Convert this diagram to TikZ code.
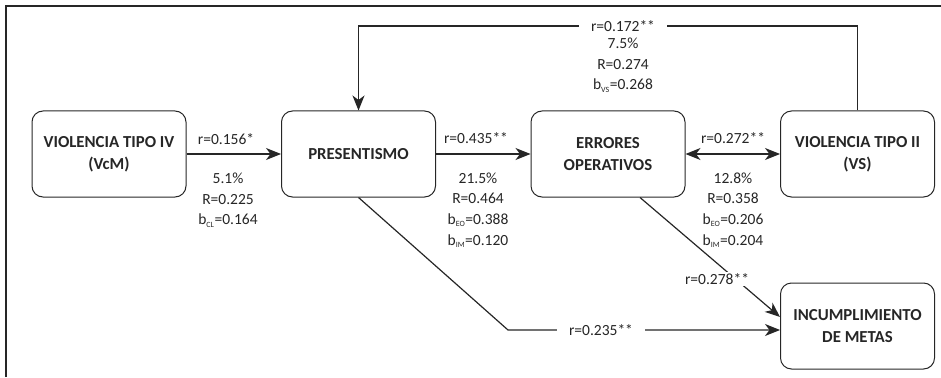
\documentclass[tikz,border=0pt]{standalone}
\usepackage{fontspec}
\setmainfont{Carlito}
\usetikzlibrary{positioning,arrows.meta}
\definecolor{ink}{gray}{0.15}
\newcommand{\sbs}[1]{\textsubscript{\fontsize{8}{8}\selectfont #1}}

\begin{document}
\begin{tikzpicture}[x=1pt,y=-1pt,node distance=249.5pt,on grid,
    >={Stealth[length=15pt,width=12pt,inset=4.5pt]},
    var/.style={draw=ink,line width=1pt,rounded corners=11pt,minimum width=154pt,minimum height=86pt,
      align=center,text=ink,font=\fontsize{16.8}{22}\selectfont\bfseries},
    stat/.style={align=center,text=ink,font=\fontsize{15.5}{20.7}\selectfont},
    gap/.style={stat,fill=white,inner xsep=12pt,inner ysep=1pt},
    link/.style={draw=ink,line width=1.2pt,->}]
  \useasboundingbox (0,0) rectangle (941,377);
  \draw[ink,line width=1.4pt] (6,377) -- (6,6) -- (941,6);

  % variables
  \node[var] (vcm) at (109,154) {VIOLENCIA TIPO IV\\(VcM)};
  \node[var] (pres) [right=of vcm]  {PRESENTISMO};
  \node[var] (err)  [right=of pres] {ERRORES\\OPERATIVOS};
  \node[var] (vs)   [right=of err]  {VIOLENCIA TIPO II\\(VS)};
  \node[var] (inc)  [below=172pt of vs] {INCUMPLIMIENTO\\DE METAS};

  % paths
  \coordinate (top)  at (623,26);
  \coordinate (knee) at (508,330);
  \draw[link] (vcm) -- (pres);
  \draw[link] (pres) -- (err);
  \draw[link,<->] (err) -- (vs);
  \draw[link] (vs.north) |- (top) -| (pres.north);
  \draw[link] (pres.south) -- (knee) -- (knee -| inc.west);
  \draw[link] ([xshift=32pt]err.south) -- ([yshift=9pt]inc.west);

  % coefficients
  \node[stat] (r156) at (226,139) {r=0.156*};
  \node[stat] (s156) at (228,200) {5.1\%\\R=0.225\\b\sbs{CL}=0.164};
  \node[stat] (r435) at (476,138) {r=0.435**};
  \node[stat] (s435) at (478,210) {21.5\%\\R=0.464\\b\sbs{EO}=0.388\\b\sbs{IM}=0.120};
  \node[stat] (r272) at (733,138) {r=0.272**};
  \node[stat] (s272) at (733,210) {12.8\%\\R=0.358\\b\sbs{EO}=0.206\\b\sbs{IM}=0.204};
  \node[gap]  (r172) at (top) {r=0.172**};
  \node[stat] (s172) at (623,65) {7.5\%\\R=0.274\\b\sbs{VS}=0.268};
  \node[gap]  (r235) at (601,330) {r=0.235**};
  \node[gap,inner xsep=2pt] (r278) at (717,279) {r=0.278**};
\end{tikzpicture}
\end{document}
